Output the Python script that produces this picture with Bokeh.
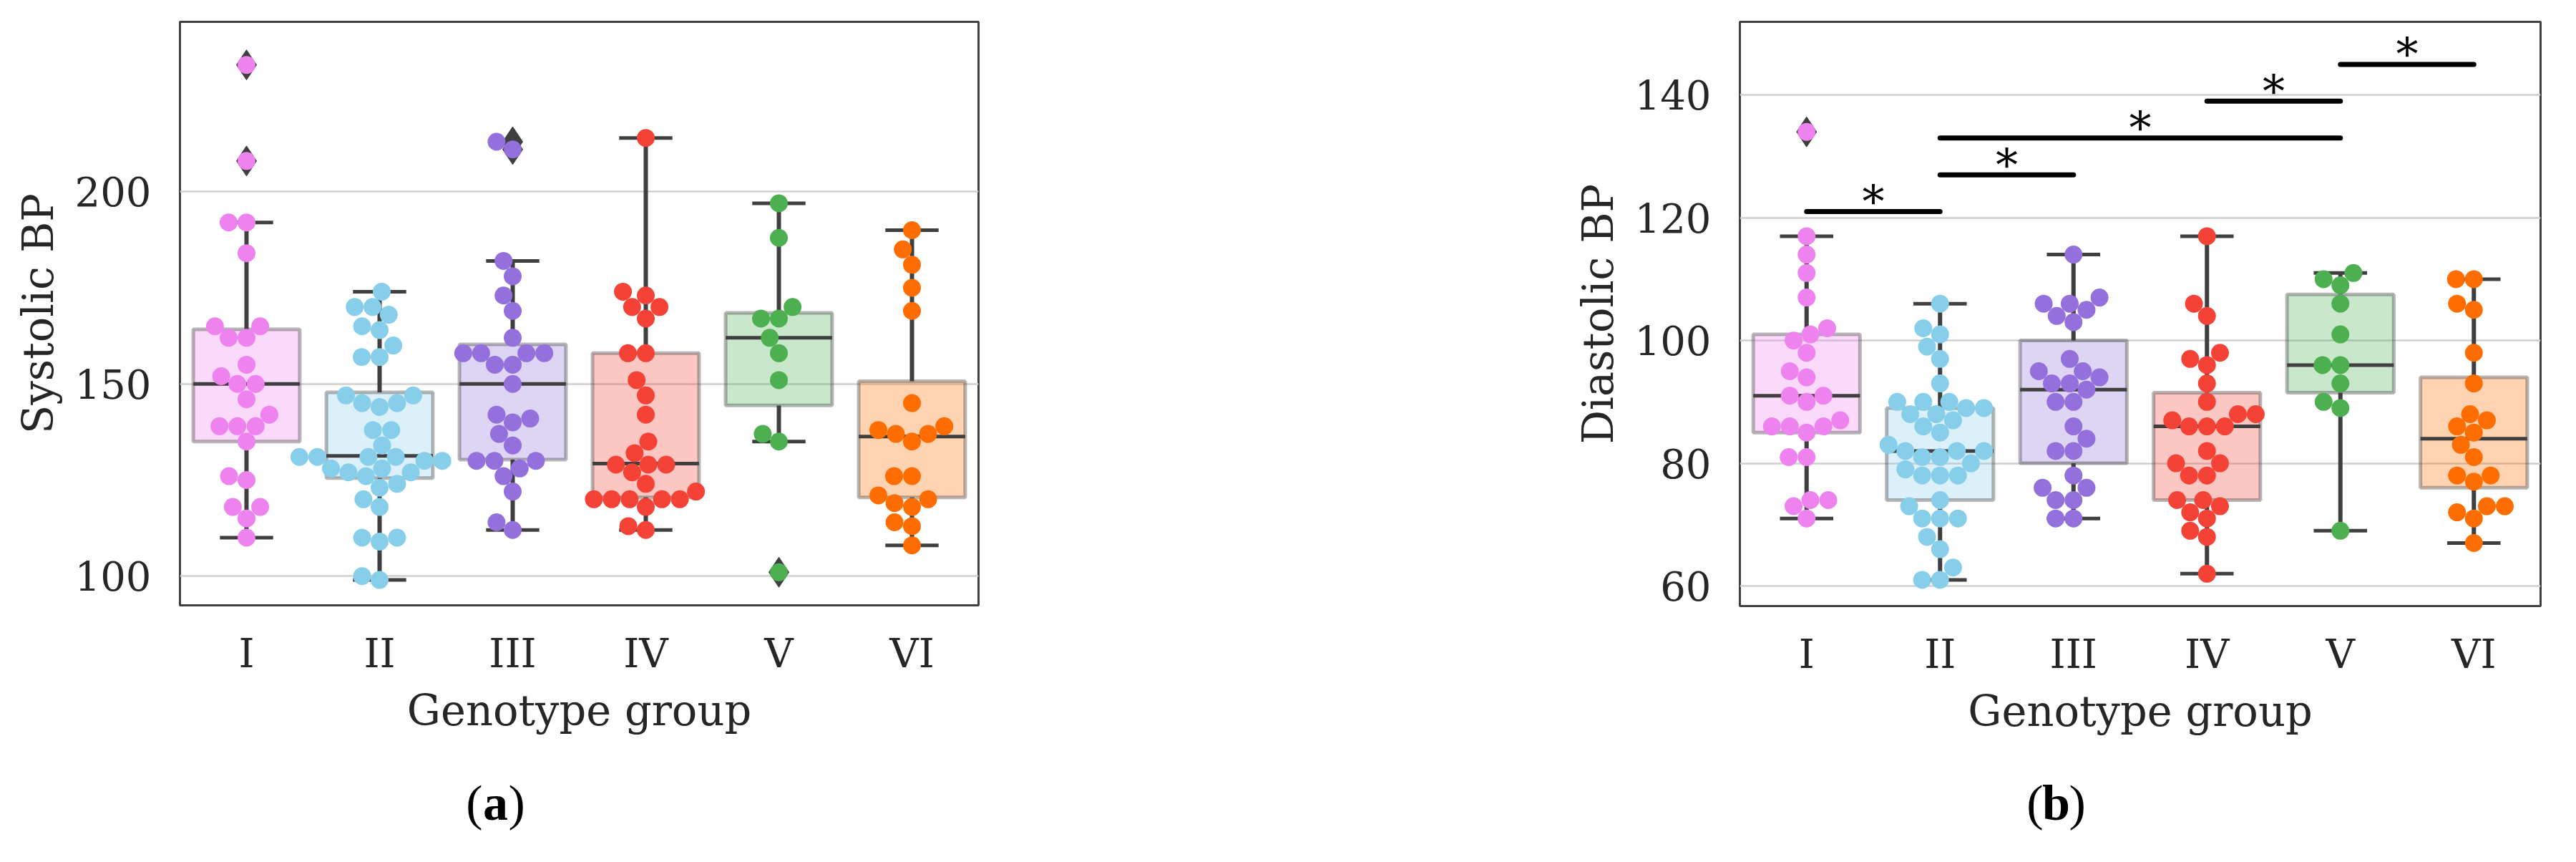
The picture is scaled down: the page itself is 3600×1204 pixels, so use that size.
import numpy as np
from bokeh.plotting import figure
from bokeh.layouts import row, column
from bokeh.models import FixedTicker, ColumnDataSource, Range1d
from bokeh.core.properties import value
from bokeh.embed import file_html
from bokeh.resources import INLINE

# ---------------- data ----------------
groups = ["I", "II", "III", "IV", "V", "VI"]
colors = ["#EE82EE", "#87CEEB", "#9370DB", "#F44336", "#4CAF50", "#FF6D00"]

sys_I = [233, 208, 192, 192, 184, 165, 165, 162, 162, 155, 152, 150, 150, 146, 142, 139, 139, 139, 135, 126, 125, 118, 118, 115, 110]
sys_II = [174, 170, 170, 168, 165, 164, 160, 157, 157, 147, 147, 145, 145, 144, 138, 138, 134, 131, 131, 131, 131, 130, 130,
          128, 128, 127, 127, 126, 124, 123, 120, 118, 110, 110, 109, 100, 99]
sys_III = [213, 211, 182, 178, 173, 169, 162, 158, 158, 158, 158, 155, 155, 150, 142, 141, 140, 137, 134, 130, 130, 130, 128, 126, 122, 114, 112]
sys_IV = [214, 174, 173, 170, 170, 167, 158, 158, 151, 147, 142, 135, 132, 129, 129, 129, 127, 124, 122, 120, 120, 120, 120, 120, 118, 113, 112]
sys_V = [197, 188, 170, 167, 167, 162, 158, 151, 137, 135, 101]
sys_VI = [190, 185, 181, 175, 169, 145, 139, 138, 137, 137, 135, 126, 126, 121, 120, 119, 118, 114, 113, 108]

dia_I = [134, 117, 114, 111, 107, 102, 101, 100, 98, 95, 94, 91, 91, 90, 87, 86, 86, 86, 85, 81, 81, 74, 74, 73, 71]
dia_II = [106, 102, 101, 99, 97, 93, 90, 90, 90, 89, 89, 88, 88, 87, 86, 85, 83, 82, 82, 82, 81, 81, 80, 79, 78, 78, 78,
          74, 73, 71, 71, 71, 68, 66, 63, 61, 61]
dia_III = [114, 107, 106, 106, 105, 104, 103, 97, 95, 95, 94, 93, 93, 92, 90, 90, 86, 84, 82, 82, 78, 76, 76, 74, 74, 71, 71]
dia_IV = [117, 106, 104, 98, 97, 96, 93, 90, 88, 88, 87, 86, 86, 86, 82, 80, 80, 78, 78, 74, 74, 73, 72, 71, 69, 68, 62]
dia_V = [111, 110, 109, 106, 101, 96, 96, 93, 90, 89, 69]
dia_VI = [110, 110, 106, 105, 98, 93, 88, 87, 86, 85, 83, 81, 78, 78, 77, 73, 73, 72, 71, 67]

# box statistics
sys_q1 = [135, 125.5, 130.3, 120.5, 144.4, 120.5]
sys_med = [150, 131.3, 150, 129.3, 162, 136.3]
sys_q3 = [164.2, 147.8, 160.3, 158, 168.5, 150.7]
sys_lo = [110, 99, 112, 112, 135, 108]
sys_hi = [192, 174, 182, 214, 197, 190]

dia_q1 = [85, 74, 80, 74, 91.5, 76]
dia_med = [91, 82, 92, 86, 96, 84]
dia_q3 = [101, 89, 100, 91.5, 107.5, 94]
dia_lo = [71, 61, 71, 62, 69, 67]
dia_hi = [117, 106, 114, 117, 111, 110]

# significance brackets (diastolic)
sig_from = ["I", "II", "II", "IV", "V"]
sig_to = ["II", "III", "V", "V", "VI"]
sig_level = [121, 127, 133, 139, 145]
sig_text = ["*", "*", "*", "*", "*"]

captions = ["a", "b"]

SERIF = "DejaVu Serif"
DARK = "#3f3f3f"
TOP_H = 1050   # height of the two chart panels
CAP_H = 138    # height of the caption strip


def swarm_offsets(vals, px_per_unit, px_per_cat, diam):
    vals = np.asarray(vals, float)
    order = np.argsort(vals, kind="stable")
    ys = vals * px_per_unit
    placed = []
    xs = np.zeros(len(vals))
    for idx in order:
        y = ys[idx]
        neigh = [(px, py) for (px, py) in placed if abs(py - y) < diam]
        cands = [0.0]
        for px, py in neigh:
            dx = np.sqrt(diam ** 2 - (py - y) ** 2)
            cands += [px - dx, px + dx]
        cands = sorted(cands, key=lambda c: (abs(c), c))
        chosen = cands[-1]
        for c in cands:
            if all((c - px) ** 2 + (y - py) ** 2 >= diam ** 2 - 1e-6 for px, py in neigh):
                chosen = c
                break
        xs[idx] = chosen
        placed.append((chosen, y))
    return xs / px_per_cat


def make_panel(data, q1, med, q3, lo, hi, yr, yticks, ylabel, frame_h, fw, borders, px_unit):
    bl, br = borders
    p = figure(frame_width=fw, frame_height=frame_h, x_range=(-0.5, 5.5), y_range=yr,
               output_backend="svg", toolbar_location=None,
               min_border_left=bl, min_border_right=br, min_border_top=30,
               min_border_bottom=TOP_H - 30 - frame_h)
    p.background_fill_color = "white"
    p.border_fill_color = "white"
    p.outline_line_color = "#404040"
    p.outline_line_width = 3
    p.xgrid.visible = False
    p.ygrid.grid_line_color = "#cfcfcf"
    p.ygrid.grid_line_width = 2.5
    p.xaxis.ticker = FixedTicker(ticks=list(range(len(groups))))
    p.xaxis.major_label_overrides = {i: g for i, g in enumerate(groups)}
    p.yaxis.ticker = FixedTicker(ticks=yticks)
    for ax in (p.xaxis[0], p.yaxis[0]):
        ax.axis_line_color = None
        ax.major_tick_line_color = None
        ax.minor_tick_line_color = None
        ax.major_tick_out = 0
        ax.major_tick_in = 0
        ax.major_label_text_font = SERIF
        ax.major_label_text_font_size = "56px"
        ax.major_label_text_color = "#262626"
        ax.axis_label_text_font = SERIF
        ax.axis_label_text_font_size = "59px"
        ax.axis_label_text_font_style = "normal"
        ax.axis_label_text_color = "#262626"
    p.yaxis.major_label_standoff = 40
    p.xaxis.major_label_standoff = 34
    p.yaxis.axis_label_standoff = 14
    p.xaxis.axis_label_standoff = 10
    p.yaxis.axis_label = ylabel
    p.xaxis.axis_label = "Genotype group"

    xs = np.arange(len(groups))
    # boxes
    p.quad(left=xs - 0.4, right=xs + 0.4, bottom=q1, top=q3, fill_color=colors, fill_alpha=0.3,
           line_color=DARK, line_alpha=0.38, line_width=5)
    # whiskers, caps and medians
    p.segment(x0=xs, y0=q3, x1=xs, y1=hi, line_color=DARK, line_width=6)
    p.segment(x0=xs, y0=q1, x1=xs, y1=lo, line_color=DARK, line_width=6)
    p.segment(x0=xs - 0.2, y0=hi, x1=xs + 0.2, y1=hi, line_color=DARK, line_width=5)
    p.segment(x0=xs - 0.2, y0=lo, x1=xs + 0.2, y1=lo, line_color=DARK, line_width=5)
    p.segment(x0=xs - 0.4, y0=med, x1=xs + 0.4, y1=med, line_color=DARK, line_width=5)
    # fliers (values beyond the whiskers)
    fx, fy = [], []
    for i, vals in enumerate(data):
        for v in vals:
            if v > hi[i] + 0.5 or v < lo[i] - 0.5:
                fx.append(i)
                fy.append(v)
    p.scatter(fx, fy, marker="diamond", size=42, color=DARK)
    # swarm
    for i, vals in enumerate(data):
        off = swarm_offsets(vals, px_unit, fw / 6.0, 25.0)
        p.scatter(i + off, vals, size=25, color=colors[i], line_color=None)
    return p


sys_data = [sys_I, sys_II, sys_III, sys_IV, sys_V, sys_VI]
dia_data = [dia_I, dia_II, dia_III, dia_IV, dia_V, dia_VI]

pa = make_panel(sys_data, sys_q1, sys_med, sys_q3, sys_lo, sys_hi, (92.4, 244.2), [100, 150, 200],
                "Systolic BP", 815, 1116, (251, 333), 5.37)
pb = make_panel(dia_data, dia_q1, dia_med, dia_q3, dia_lo, dia_hi, (56.73, 151.93), [60, 80, 100, 120, 140],
                "Diastolic BP", 816, 1119, (731, 34), 8.578)

gi = {g: i for i, g in enumerate(groups)}
src = ColumnDataSource(dict(
    x0=[gi[a] for a in sig_from], x1=[gi[b] for b in sig_to], y=sig_level,
    xm=[(gi[a] + gi[b]) / 2 for a, b in zip(sig_from, sig_to)], t=sig_text))
pb.segment(x0="x0", y0="y", x1="x1", y1="y", source=src, line_color="black", line_width=7, line_cap="round")
pb.text(x="xm", y="y", text="t", source=src, text_font=value(SERIF), text_font_size="62px",
        text_align="center", text_baseline="alphabetic", y_offset=-14, text_color="black")

# caption strip with "(a)" and "(b)"
W = 1700 + 1884
cap = figure(width=W, height=CAP_H, x_range=Range1d(0, W), y_range=Range1d(0, CAP_H),
             output_backend="svg", toolbar_location=None, min_border=0)
cap.axis.visible = False
cap.grid.visible = False
cap.outline_line_color = None
cap_x = [692, 2873]
cap_y = [67, 67]
cap.text(x=cap_x, y=cap_y, text=captions, text_font=value("Liberation Serif"), text_font_size="70px",
         text_font_style="bold", text_align="center", text_baseline="middle", text_color="black")
cap.text(x=cap_x, y=cap_y, text=["(" for _ in captions], x_offset=-18, text_font=value("Liberation Serif"),
         text_font_size="70px", text_align="right", text_baseline="middle", text_color="black")
cap.text(x=cap_x, y=cap_y, text=[")" for _ in captions], x_offset=18, text_font=value("Liberation Serif"),
         text_font_size="70px", text_align="left", text_baseline="middle", text_color="black")

layout = column(row(pa, pb, spacing=0), cap, spacing=0)
open("out.html", "w").write(file_html(layout, INLINE))
